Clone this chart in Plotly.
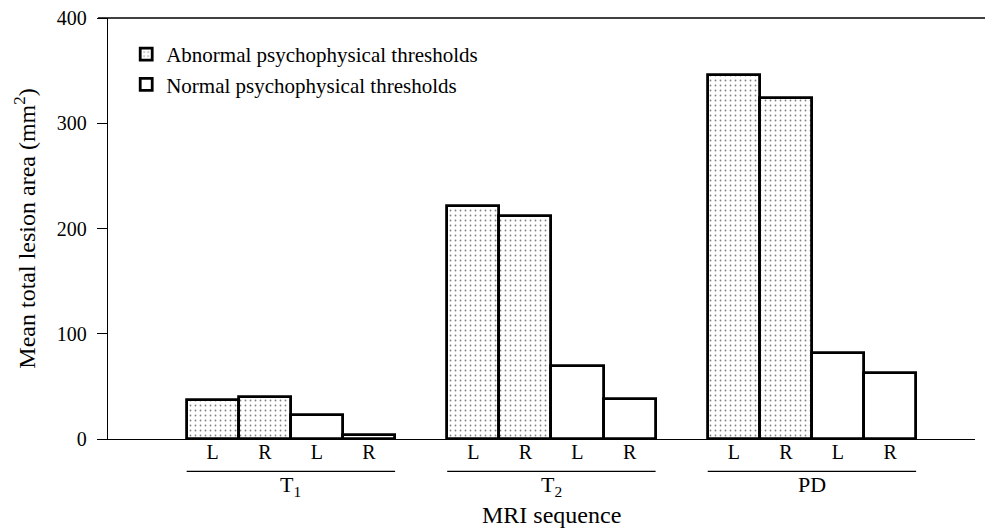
import plotly.graph_objects as go

groups = ["T<sub>1</sub>", "T<sub>2</sub>", "PD"]
sides = ["L", "R"]
abnormal_L = [37, 221, 346]
abnormal_R = [40, 212, 324]
normal_L = [23, 69, 82]
normal_R = [4, 38, 63]
y_ticks = [0, 100, 200, 300, 400]

FONT = "Liberation Serif, Times New Roman, serif"
STEP = 5  # slots per group (4 bars + 1 gap)

abn_x, abn_y, nor_x, nor_y = [], [], [], []
tickvals, ticktext = [], []
for g in range(len(groups)):
    base = g * STEP
    abn_x += [base + 0, base + 1]
    abn_y += [abnormal_L[g], abnormal_R[g]]
    nor_x += [base + 2, base + 3]
    nor_y += [normal_L[g], normal_R[g]]
    for k in range(4):
        tickvals.append(base + k)
        ticktext.append(sides[k % 2])

fig = go.Figure()
fig.add_trace(go.Bar(
    x=abn_x, y=abn_y, width=1, name="Abnormal psychophysical thresholds",
    marker=dict(color="white",
                line=dict(color="black", width=2.8),
                pattern=dict(shape=".", fgcolor="black", bgcolor="white",
                             size=5, solidity=0.1, fillmode="overlay")),
))
fig.add_trace(go.Bar(
    x=nor_x, y=nor_y, width=1, name="Normal psychophysical thresholds",
    marker=dict(color="white", line=dict(color="black", width=2.8)),
))

shapes = []
annotations = []
for g, lab in enumerate(groups):
    base = g * STEP
    shapes.append(dict(type="line", xref="x", yref="paper",
                       x0=base - 0.5, x1=base + 3.5, y0=-0.077, y1=-0.077,
                       line=dict(color="black", width=1.4)))
    annotations.append(dict(text=lab, xref="x", yref="paper", x=base + 1.5,
                            y=-0.074, yanchor="top", showarrow=False,
                            font=dict(family=FONT, size=22, color="black")))
# top frame line
shapes.append(dict(type="line", xref="paper", yref="paper",
                   x0=-0.0115, x1=1.021, y0=1, y1=1,
                   line=dict(color="black", width=1.3)))
annotations.append(dict(text="MRI sequence", xref="x", yref="paper",
                        x=1 * STEP + 1.5, y=-0.146, yanchor="top",
                        xanchor="center", showarrow=False,
                        font=dict(family=FONT, size=24, color="black")))

# the page body adds an 8px offset; the figure is sized so the visible
# window (993x529) shows the same region as the reference
fig.update_layout(
    width=985, height=521,
    margin=dict(l=100, r=18, t=10, b=90, autoexpand=False),
    paper_bgcolor="white", plot_bgcolor="white",
    bargap=0, barmode="overlay",
    font=dict(family=FONT, size=20, color="black"),
    showlegend=True,
    legend=dict(x=0.021, y=0.962, xanchor="left", yanchor="top",
                bgcolor="rgba(0,0,0,0)", font=dict(family=FONT, size=21),
                tracegroupgap=0, itemwidth=30),
    xaxis=dict(range=[-2.01, 14.63], tickvals=tickvals, ticktext=ticktext,
               showgrid=False, zeroline=False, showline=True, automargin=False,
               linecolor="black", linewidth=1.3, ticks="",
               ticklabelstandoff=-5,
               tickfont=dict(family=FONT, size=20)),
    yaxis=dict(range=[0, 400], tickvals=y_ticks, showgrid=False,
               automargin=False, ticklabeloverflow="allow",
               zeroline=False, showline=True, linecolor="black", linewidth=1.3,
               ticks="outside", ticklen=10, tickwidth=1.3, tickcolor="black",
               ticklabelstandoff=6,
               tickfont=dict(family=FONT, size=20),
               title=dict(text="Mean total lesion area (mm<sup>2</sup>)",
                          font=dict(family=FONT, size=24), standoff=14)),
    shapes=shapes, annotations=annotations,
)

fig.write_html("out.html")
